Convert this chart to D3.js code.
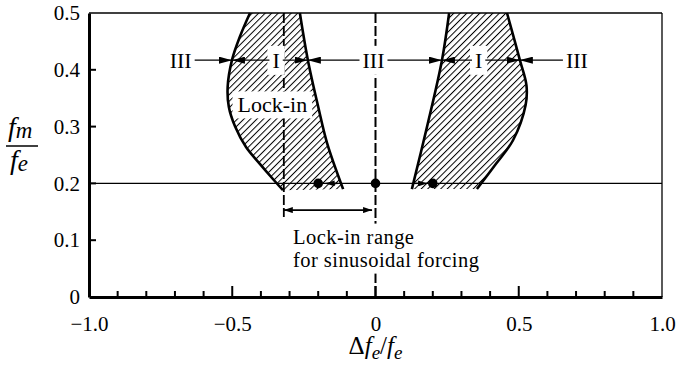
<!DOCTYPE html>
<html>
<head>
<meta charset="utf-8">
<script src="https://cdn.jsdelivr.net/npm/d3@7"></script>
<style>
  body { margin: 0; background: #fff; }
  svg { display: block; }
  text { font-family: 'Liberation Serif', 'Times New Roman', serif; fill: #000; }
</style>
</head>
<body>
<div id="chart"></div>
<script>
// tick values
var xTickValues = [-1.0, -0.5, 0, 0.5, 1.0]
var xTickLabels = ['\u22121.0', '\u22120.5', '0', '0.5', '1.0']
var xMinorTicks = [-0.9, -0.8, -0.7, -0.6, -0.5, -0.4, -0.3, -0.2, -0.1, 0, 0.1, 0.2, 0.3, 0.4, 0.5, 0.6, 0.7, 0.8, 0.9]
var xMajorTicks = [-0.5, 0, 0.5]
var yTickValues = [0, 0.1, 0.2, 0.3, 0.4, 0.5]
var yTickLabels = ['0', '0.1', '0.2', '0.3', '0.4', '0.5']

// lock-in region boundaries [df/f, fm/fe]
var leftOuterEdge = [[-0.438, 0.5], [-0.472, 0.46], [-0.501, 0.417], [-0.516, 0.37], [-0.512, 0.335],
  [-0.49, 0.3], [-0.452, 0.264], [-0.403, 0.234], [-0.355, 0.206], [-0.323, 0.188]]
var leftInnerEdge = [[-0.264, 0.5], [-0.236, 0.417], [-0.2, 0.335], [-0.169, 0.271], [-0.113, 0.19]]
var rightInnerEdge = [[0.257, 0.5], [0.232, 0.417], [0.18, 0.3], [0.127, 0.19]]
var rightOuterEdge = [[0.459, 0.5], [0.504, 0.417], [0.527, 0.372], [0.524, 0.338], [0.48, 0.276],
  [0.42, 0.234], [0.354, 0.19]]

// regime labels along fm/fe = 0.417
var regimeLevel = 0.417
var regimeBounds = [-0.501, -0.236, 0.232, 0.504]
var regimeNames = ['III', 'I', 'III', 'I', 'III']
var regimeCenters = [-0.68, -0.347, -0.007, 0.36, 0.703]

// sinusoidal forcing
var forcingLevel = 0.2
var forcingPoints = [-0.2, 0, 0.2]
var forcingArrows = [[-0.13, -0.174], [0.137, 0.18]]
var lockInRange = [-0.32, -0.012]
var lockInRangeLevel = 0.153

var svgWidth = 676
var svgHeight = 366
var margin = { top: 13, right: 14, bottom: 69, left: 89 }
var width = svgWidth - margin.left - margin.right
var height = svgHeight - margin.top - margin.bottom
var fontSize = 22

var svg = d3.select('#chart').append('svg')
  .attr('width', svgWidth)
  .attr('height', svgHeight)

var defs = svg.append('defs')
var hatch = defs.append('pattern')
  .attr('id', 'hatch')
  .attr('patternUnits', 'userSpaceOnUse')
  .attr('width', 4.6)
  .attr('height', 10)
  .attr('patternTransform', 'rotate(45)')
hatch.append('line')
  .attr('x1', 0.5).attr('y1', 0).attr('x2', 0.5).attr('y2', 10)
  .attr('stroke', '#000').attr('stroke-width', 1)

function addMarker (id, len, wid) {
  defs.append('marker')
    .attr('id', id)
    .attr('viewBox', `0 0 ${len} ${wid}`)
    .attr('refX', len).attr('refY', wid / 2)
    .attr('markerWidth', len).attr('markerHeight', wid)
    .attr('markerUnits', 'userSpaceOnUse')
    .attr('orient', 'auto-start-reverse')
    .append('path')
    .attr('d', `M0,0L${len},${wid / 2}L0,${wid}Z`)
    .attr('fill', '#000')
}
addMarker('arrow', 13, 7)
addMarker('arrowSmall', 9, 6)

var g = svg.append('g').attr('transform', `translate(${margin.left}, ${margin.top})`)

// drawing layers
var hatchLayer = g.append('g')
var lineLayer = g.append('g')
var boxLayer = g.append('g')
var edgeLayer = g.append('g')
var markLayer = g.append('g')
var textLayer = g.append('g')
var axisLayer = g.append('g')

var x = d3.scaleLinear().domain([-1, 1]).range([0, width])
var y = d3.scaleLinear().domain([0, 0.5]).range([height, 0])

var edgeLine = d3.line().x(d => x(d[0])).y(d => y(d[1])).curve(d3.curveCatmullRom)

function regionPath (a, b) {
  return edgeLine(a) + 'L' + edgeLine(b.slice().reverse()).substring(1) + 'Z'
}

// hatched regions
hatchLayer.append('path').attr('d', regionPath(leftOuterEdge, leftInnerEdge)).attr('fill', 'url(#hatch)')
hatchLayer.append('path').attr('d', regionPath(rightInnerEdge, rightOuterEdge)).attr('fill', 'url(#hatch)')

// horizontal line at fm/fe = 0.2
lineLayer.append('line')
  .attr('x1', 0).attr('x2', width)
  .attr('y1', y(forcingLevel)).attr('y2', y(forcingLevel))
  .attr('stroke', '#000').attr('stroke-width', 1.2)

// dashed verticals
lineLayer.append('line')
  .attr('x1', x(0)).attr('x2', x(0))
  .attr('y1', 0).attr('y2', height)
  .attr('stroke', '#000').attr('stroke-width', 2)
  .attr('stroke-dasharray', '10,3')
lineLayer.append('line')
  .attr('x1', x(lockInRange[0])).attr('x2', x(lockInRange[0]))
  .attr('y1', 0).attr('y2', y(lockInRangeLevel) + 7)
  .attr('stroke', '#000').attr('stroke-width', 1.8)
  .attr('stroke-dasharray', '10,3')

// regime labels with arrows to the neighbouring boundaries
regimeNames.forEach(function (name, i) {
  var t = textLayer.append('text')
    .attr('x', x(regimeCenters[i]))
    .attr('y', y(regimeLevel))
    .attr('dy', '0.35em')
    .attr('text-anchor', 'middle')
    .style('font-size', fontSize + 'px')
    .text(name)
  var bb = t.node().getBBox()
  boxLayer.append('rect')
    .attr('x', bb.x - 5).attr('y', bb.y - 2)
    .attr('width', bb.width + 10).attr('height', bb.height + 4)
    .attr('fill', '#fff')
  var left = i > 0 ? regimeBounds[i - 1] : null
  var right = i < regimeBounds.length ? regimeBounds[i] : null
  if (left !== null) {
    markLayer.append('line')
      .attr('x1', bb.x - 3).attr('x2', x(left))
      .attr('y1', y(regimeLevel)).attr('y2', y(regimeLevel))
      .attr('stroke', '#000').attr('stroke-width', 1.2)
      .attr('marker-end', 'url(#arrow)')
  }
  if (right !== null) {
    markLayer.append('line')
      .attr('x1', bb.x + bb.width + 3).attr('x2', x(right))
      .attr('y1', y(regimeLevel)).attr('y2', y(regimeLevel))
      .attr('stroke', '#000').attr('stroke-width', 1.2)
      .attr('marker-end', 'url(#arrow)')
  }
})

var lockText = textLayer.append('text')
  .attr('x', x(-0.36))
  .attr('y', y(0.325))
  .attr('text-anchor', 'middle')
  .style('font-size', fontSize + 'px')
  .text('Lock-in')
var lb = lockText.node().getBBox()
boxLayer.append('rect')
  .attr('x', lb.x - 5).attr('y', lb.y - 1)
  .attr('width', lb.width + 10).attr('height', lb.height + 2)
  .attr('fill', '#fff')

// bold region edges
;[leftOuterEdge, leftInnerEdge, rightInnerEdge, rightOuterEdge].forEach(function (edge) {
  edgeLayer.append('path')
    .attr('d', edgeLine(edge))
    .attr('fill', 'none')
    .attr('stroke', '#000')
    .attr('stroke-width', 2.6)
})

// forcing points and small arrows
markLayer.selectAll('.fpt')
  .data(forcingPoints)
  .enter()
  .append('circle')
  .attr('class', 'fpt')
  .attr('cx', d => x(d))
  .attr('cy', y(forcingLevel))
  .attr('r', 4.8)
  .attr('fill', '#000')
forcingArrows.forEach(function (a) {
  markLayer.append('line')
    .attr('x1', x(a[0])).attr('x2', x(a[1]))
    .attr('y1', y(forcingLevel)).attr('y2', y(forcingLevel))
    .attr('stroke', '#000').attr('stroke-width', 1.4)
    .attr('marker-end', 'url(#arrowSmall)')
})

// lock-in range bracket
markLayer.append('line')
  .attr('x1', x(lockInRange[0])).attr('x2', x(lockInRange[1]))
  .attr('y1', y(lockInRangeLevel)).attr('y2', y(lockInRangeLevel))
  .attr('stroke', '#000').attr('stroke-width', 1.8)
  .attr('marker-start', 'url(#arrowSmall)')
  .attr('marker-end', 'url(#arrowSmall)')

// two separate lines of the range caption
var rangeLines = ['Lock-in range', 'for sinusoidal forcing']
rangeLines.forEach(function (line, i) {
  textLayer.append('text')
    .attr('x', x(-0.288))
    .attr('y', y(0.094) + i * 23)
    .style('font-size', '20.5px')
    .style('letter-spacing', '0.45px')
    .text(line)
})
boxLayer.append('rect')
  .attr('x', x(0) - 4).attr('y', y(0.094) - 20)
  .attr('width', 8).attr('height', 50)
  .attr('fill', '#fff')

// frame
axisLayer.append('line').attr('x1', 0).attr('x2', width).attr('y1', 0).attr('y2', 0)
  .attr('stroke', '#000').attr('stroke-width', 1.3)
axisLayer.append('line').attr('x1', width).attr('x2', width).attr('y1', 0).attr('y2', height)
  .attr('stroke', '#000').attr('stroke-width', 1.3)

// axes
var bottomAxis = d3.axisBottom(x).tickValues(xTickValues).tickSize(0).tickPadding(14)
  .tickFormat((d, i) => xTickLabels[i])
var leftAxis = d3.axisLeft(y).tickValues(yTickValues).tickSize(0).tickPadding(9)
  .tickFormat((d, i) => yTickLabels[i])

var xAxisG = axisLayer.append('g').attr('transform', `translate(0, ${height})`).call(bottomAxis)
var yAxisG = axisLayer.append('g').call(leftAxis)
;[xAxisG, yAxisG].forEach(function (ax) {
  ax.attr('font-family', null).attr('font-size', null)
  ax.select('.domain').attr('stroke', '#000').attr('stroke-width', 3)
  ax.selectAll('text').style('font-size', '21px').style('font-family', "'Liberation Serif', serif")
})
xAxisG.selectAll('.tick text').attr('dy', '0.95em')

// inward ticks
axisLayer.selectAll('.xminor')
  .data(xMinorTicks)
  .enter()
  .append('line')
  .attr('class', 'xminor')
  .attr('x1', d => x(d)).attr('x2', d => x(d))
  .attr('y1', height)
  .attr('y2', d => height - (xMajorTicks.indexOf(d) >= 0 ? 11 : 6))
  .attr('stroke', '#000').attr('stroke-width', 2)
axisLayer.selectAll('.ytick')
  .data(yTickValues.slice(1, 5))
  .enter()
  .append('line')
  .attr('class', 'ytick')
  .attr('x1', 0).attr('x2', 7)
  .attr('y1', d => y(d)).attr('y2', d => y(d))
  .attr('stroke', '#000').attr('stroke-width', 2)

// axis titles
var xTitle = svg.append('text')
  .attr('x', margin.left + x(0))
  .attr('y', 354)
  .attr('text-anchor', 'middle')
  .style('font-size', '25px')
xTitle.append('tspan').text('\u0394')
xTitle.append('tspan').style('font-style', 'italic').text('f')
xTitle.append('tspan').style('font-style', 'italic').style('font-size', '19px').attr('dy', 5).text('e')
xTitle.append('tspan').attr('dy', -5).text('/')
xTitle.append('tspan').style('font-style', 'italic').text('f')
xTitle.append('tspan').style('font-style', 'italic').style('font-size', '19px').attr('dy', 5).text('e')

var yTitleTop = svg.append('text').attr('x', 8).attr('y', 136).style('font-size', '28px')
yTitleTop.append('tspan').style('font-style', 'italic').text('f')
yTitleTop.append('tspan').style('font-style', 'italic').style('font-size', '23px').attr('dy', 2).text('m')
svg.append('line')
  .attr('x1', 6).attr('x2', 38).attr('y1', 146).attr('y2', 146)
  .attr('stroke', '#000').attr('stroke-width', 1.5)
var yTitleBottom = svg.append('text').attr('x', 10).attr('y', 169).style('font-size', '28px')
yTitleBottom.append('tspan').style('font-style', 'italic').text('f')
yTitleBottom.append('tspan').style('font-style', 'italic').style('font-size', '23px').attr('dy', 2).text('e')
</script>
</body>
</html>
